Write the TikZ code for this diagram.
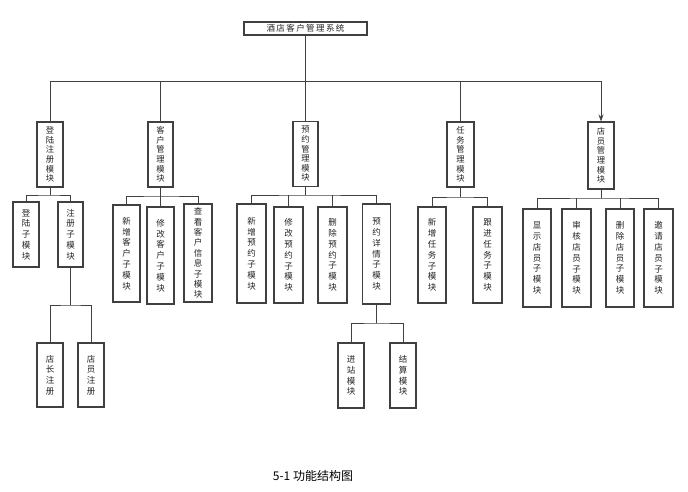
\documentclass[tikz,border=0pt]{standalone}
\usepackage{fontspec}
\newfontfamily\cjk{Noto Sans CJK SC}
\usetikzlibrary{arrows.meta}
\definecolor{ln}{HTML}{404040}
\definecolor{tx}{HTML}{222222}
\begin{document}
\begin{tikzpicture}[x=1pt,y=-1pt,
  box/.style={draw=ln,line width=1.1pt,fill=white,inner sep=0pt,align=center,text=tx,
    font=\cjk\fontsize{8.5}{10.8}\selectfont},
  tight/.style={font=\cjk\fontsize{8.3}{9.6}\selectfont},
  conn/.style={draw=ln,line width=1pt},
  arr/.style={conn,-{Stealth[length=7pt,width=5pt]}}]
\useasboundingbox[fill=white] (0,0) rectangle (688,491);

% title
\node[box,minimum width=123pt,minimum height=13pt,font=\cjk\fontsize{8.5}{10}\selectfont] (title) at (305.5,28.5) {酒\,店\,客\,户\,管\,理\,系\,统};

% level 2
\node[box,tight,minimum width=26pt,minimum height=65pt] (dl) at (50,154.5) {登\\陆\\注\\册\\模\\块};
\node[box,tight,minimum width=25pt,minimum height=65pt] (kh) at (160.5,154.5) {客\\户\\管\\理\\模\\块};
\node[box,tight,minimum width=25pt,minimum height=65pt] (yy) at (305.5,154) {预\\约\\管\\理\\模\\块};
\node[box,tight,minimum width=27pt,minimum height=65pt] (rw) at (460.5,154.5) {任\\务\\管\\理\\模\\块};
\node[box,tight,minimum width=26pt,minimum height=67pt] (dy) at (601,155.5) {店\\员\\管\\理\\模\\块};

% level 3 under dl
\node[box,minimum width=26pt,minimum height=65pt] (dlz) at (26,234.5) {登\\陆\\子\\模\\块};
\node[box,minimum width=25pt,minimum height=65pt] (zc) at (70.5,234.5) {注\\册\\子\\模\\块};
\node[box,minimum width=26pt,minimum height=64pt] (dz) at (50,375) {店\\长\\注\\册};
\node[box,minimum width=26pt,minimum height=64pt] (dyz) at (91,375) {店\\员\\注\\册};

% level 3 under kh
\node[box,minimum width=27pt,minimum height=97pt] (xzkh) at (126.5,253.5) {新\\增\\客\\户\\子\\模\\块};
\node[box,minimum width=27pt,minimum height=97pt] (xgkh) at (160.5,255.5) {修\\改\\客\\户\\子\\模\\块};
\node[box,minimum width=28pt,minimum height=98pt,font=\cjk\fontsize{8.5}{10.4}\selectfont] (ckkh) at (198,253) {查\\看\\客\\户\\信\\息\\子\\模\\块};

% level 3 under yy
\node[box,minimum width=29pt,minimum height=99pt] (xzyy) at (251.5,253.5) {新\\增\\预\\约\\子\\模\\块};
\node[box,minimum width=29pt,minimum height=96pt] (xgyy) at (288.5,255) {修\\改\\预\\约\\子\\模\\块};
\node[box,minimum width=29pt,minimum height=96pt] (scyy) at (332.5,255) {删\\除\\预\\约\\子\\模\\块};
\node[box,minimum width=28pt,minimum height=100pt] (yyxq) at (376.5,254) {预\\约\\详\\情\\子\\模\\块};
\node[box,minimum width=26pt,minimum height=65pt] (jz) at (351,375.5) {进\\站\\模\\块};
\node[box,minimum width=26pt,minimum height=65pt] (js) at (403,375.5) {结\\算\\模\\块};

% level 3 under rw
\node[box,minimum width=28pt,minimum height=96pt] (xzrw) at (432,255) {新\\增\\任\\务\\子\\模\\块};
\node[box,minimum width=29pt,minimum height=96pt] (gjrw) at (487.5,255) {跟\\进\\任\\务\\子\\模\\块};

% level 3 under dy
\node[box,minimum width=28pt,minimum height=98pt] (xsdy) at (537,258) {显\\示\\店\\员\\子\\模\\块};
\node[box,minimum width=29pt,minimum height=98pt] (shdy) at (576.5,258) {审\\核\\店\\员\\子\\模\\块};
\node[box,minimum width=28pt,minimum height=98pt] (scdy) at (620,258) {删\\除\\店\\员\\子\\模\\块};
\node[box,minimum width=29pt,minimum height=98pt] (yqdy) at (658.5,258) {邀\\请\\店\\员\\子\\模\\块};

% caption
\node[inner sep=0pt,font=\cjk\fontsize{12}{14}\selectfont,text=black] (cap) at (313,476) {5-1 功能结构图};

% connectors: title to level 2
\coordinate (bus) at (305.5,81);
\draw[conn] (title.south) -- (bus);
\draw[conn] (dl.north) |- (bus);
\draw[conn] (kh.north) -- (kh.north |- bus);
\draw[conn] (yy.north) -- (yy.north |- bus);
\draw[conn] (rw.north) -- (rw.north |- bus);
\draw[arr] (bus) -| (dy.north);

% dl
\coordinate (b1) at (50,195);
\draw[conn] (dl.south) -- (b1);
\draw[conn] (dlz.north) |- (b1) -| (zc.north);
\coordinate (b2) at (70.5,305);
\draw[conn] (zc.south) -- (b2);
\draw[conn] (dz.north) |- (b2) -| (dyz.north);

% kh
\coordinate (b3) at (160.5,196);
\draw[conn] (kh.south) -- (b3);
\draw[conn] (xzkh.north) |- (b3) -| (ckkh.north);
\draw[conn] (xgkh.north) -- (xgkh.north |- b3);

% yy
\coordinate (b4) at (305.5,195);
\draw[conn] (yy.south) -- (b4);
\draw[conn] (xzyy.north) |- (b4) -| (yyxq.north);
\draw[conn] (xgyy.north) -- (xgyy.north |- b4);
\draw[conn] (scyy.north) -- (scyy.north |- b4);
\coordinate (b5) at (376.5,323);
\draw[conn] (yyxq.south) -- (b5);
\draw[conn] (jz.north) |- (b5) -| (js.north);

% rw
\coordinate (b6) at (460.5,197);
\draw[conn] (rw.south) -- (b6);
\draw[conn] (xzrw.north) |- (b6) -| (gjrw.north);

% dy
\coordinate (b7) at (601,198);
\draw[conn] (dy.south) -- (b7);
\draw[conn] (xsdy.north) |- (b7) -| (yqdy.north);
\draw[conn] (shdy.north) -- (shdy.north |- b7);
\draw[conn] (scdy.north) -- (scdy.north |- b7);
\end{tikzpicture}
\end{document}
